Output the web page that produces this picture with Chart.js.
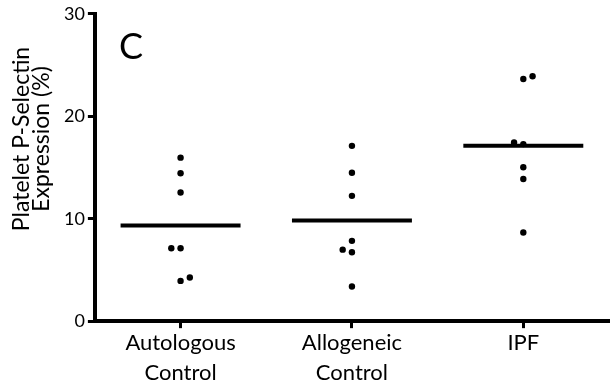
<!DOCTYPE html>
<html><head><meta charset="utf-8">
<script src="https://cdn.jsdelivr.net/npm/chart.js@4/dist/chart.umd.min.js"></script>
<style>html,body{margin:0;padding:0;background:#fff}#wrap{width:613px;height:390px}</style>
</head><body><div id="wrap"><canvas id="c"></canvas></div>
<script>
const categories = [["Autologous","Control"],["Allogeneic","Control"],["IPF"]];
const autologous = [15.96, 14.43, 12.56, 7.11, 7.11, 3.93, 4.26];
const allogeneic = [17.11, 14.49, 12.23, 7.84, 6.98, 6.72, 3.38];
const ipf = [23.64, 23.9, 17.44, 17.28, 15.02, 13.87, 8.66];
// horizontal side of each dot where near-equal values overlap (-1 left, 0 centre, 1 right)
const sides = [[0,0,0,0,-1,0,1],[0,0,0,0,-1,0,0],[0,1,-1,0,0,0,0]];
const yTicks = [0, 10, 20, 30];
const yTitle = ["Platelet P-Selectin", "Expression (%)"];
const panelLetter = "C";

const groups = [autologous, allogeneic, ipf];
const JIT = 0.054, HALF = 0.35;
const FONT = "Lato, 'Open Sans', sans-serif";
const datasets = [];
groups.forEach((vals, i) => {
  datasets.push({type:'scatter', data: vals.map((v,k)=>({x:i+sides[i][k]*JIT, y:v})),
    pointRadius:3.2, pointBackgroundColor:'#000', pointBorderWidth:0, showLine:false});
  const mean = vals.reduce((a,b)=>a+b,0)/vals.length;
  datasets.push({type:'line', data:[{x:i-HALF,y:mean},{x:i+HALF,y:mean}],
    borderColor:'#000', borderWidth:4, pointRadius:0, borderCapStyle:'butt'});
});
const textPlugin = {id:'texts', afterDraw(chart){
  const ctx = chart.ctx; ctx.save(); ctx.fillStyle='#000';
  ctx.font = "36px " + FONT; ctx.textBaseline='alphabetic'; ctx.textAlign='left';
  ctx.fillText(panelLetter, chart.chartArea.left + 24, 59);
  ctx.translate(0, 139); ctx.rotate(-Math.PI/2);
  ctx.font = "23px " + FONT; ctx.textAlign='center';
  ctx.fillText(yTitle[0], 0, 29);
  ctx.fillText(yTitle[1], 0, 49);
  ctx.restore();
}};
new Chart(document.getElementById('c'), {
  data:{datasets},
  options:{responsive:true, maintainAspectRatio:false, animation:false,
    layout:{padding:{top:9,right:1,left:61,bottom:2}},
    plugins:{legend:{display:false}, tooltip:{enabled:false}},
    scales:{
      x:{type:'linear', min:-0.5, max:2.5,
        afterBuildTicks:(s)=>{s.ticks=categories.map((c,i)=>({value:i}));},
        ticks:{callback:(v)=>categories[v], color:'#000', font:{family:FONT,size:22, lineHeight:1.36}, padding:0, maxRotation:0, autoSkip:false},
        grid:{drawOnChartArea:false, drawTicks:true, tickLength:7, tickWidth:3, tickColor:'#000'},
        border:{display:true, width:4, color:'#000'}},
      y:{min:0, max:30,
        afterBuildTicks:(s)=>{s.ticks=yTicks.map(v=>({value:v}));},
        ticks:{color:'#000', font:{family:FONT,size:18}, padding:3},
        grid:{drawOnChartArea:false, drawTicks:true, tickLength:7, tickWidth:3, tickColor:'#000'},
        border:{display:true, width:4, color:'#000'}}
    }},
  plugins:[textPlugin]
});
</script></body></html>
